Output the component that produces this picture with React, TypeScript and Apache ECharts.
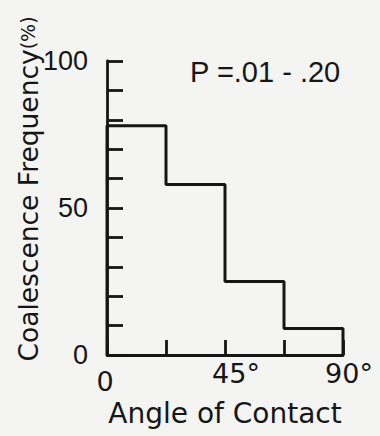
import React, { useEffect, useRef } from "react";
import * as echarts from "echarts";

const binEdges = [0, 22.5, 45, 67.5, 90];
const frequencies = [78, 58, 25, 9];
const yLabelValues = [0, 50, 100];
const xLabelTexts: Record<string, string> = { "0": "0", "45": "45°", "90": "90°" };
const xAxisTitle = "Angle of Contact";
const yAxisTitle = "Coalescence Frequency";
const yAxisUnit = "(%)";
const annotation = "P =.01 - .20";

const INK = "#161616";
const BG = "#f4f4f2";

export default function App() {
  const ref = useRef<HTMLDivElement>(null);
  useEffect(() => {
    if (!ref.current) return;
    const chart = echarts.init(ref.current, null, { renderer: "svg" });
    const pts: number[][] = [[binEdges[0], 0]];
    frequencies.forEach((f, i) => {
      pts.push([binEdges[i], f]);
      pts.push([binEdges[i + 1], f]);
    });
    pts.push([binEdges[binEdges.length - 1], 0]);

    chart.setOption({
      animation: false,
      backgroundColor: BG,
      grid: { left: 107, right: 37, top: 61, bottom: 81 },
      xAxis: {
        type: "value",
        min: 0,
        max: 90,
        interval: 22.5,
        splitLine: { show: false },
        axisLine: { show: true, lineStyle: { color: INK, width: 2.8 } },
        axisTick: { show: true, inside: true, length: 15, lineStyle: { color: INK, width: 2.8 } },
        axisLabel: {
          margin: 5,
          color: INK,
          fontFamily: "DejaVu Sans",
          fontSize: 27,
          formatter: (v: number) => {
            const t = xLabelTexts[String(v)];
            if (!t) return "";
            if (v === 0) return `{z|${t}}`;
            if (v === 45) return `{m|${t}}`;
            return `{e|${t}}`;
          },
          rich: {
            z: { fontFamily: "DejaVu Sans", fontSize: 27, color: INK, padding: [8, 4, 0, 0] },
            m: { fontFamily: "DejaVu Sans", fontSize: 27, color: INK, padding: [0, 0, 0, 22] },
            e: { fontFamily: "DejaVu Sans", fontSize: 27, color: INK, padding: [0, 0, 0, 12] },
          },
        },
        name: xAxisTitle,
        nameLocation: "middle",
        nameGap: 44,
        nameTextStyle: { color: INK, fontFamily: "DejaVu Sans", fontSize: 28, verticalAlign: "top" },
      },
      yAxis: {
        type: "value",
        min: 0,
        max: 100,
        interval: 10,
        splitLine: { show: false },
        axisLine: { show: true, lineStyle: { color: INK, width: 2.8 } },
        axisTick: { show: true, inside: true, length: 16, lineStyle: { color: INK, width: 2.8 } },
        axisLabel: {
          margin: 19,
          color: INK,
          fontFamily: "Liberation Sans",
          fontSize: 27,
          formatter: (v: number) => (yLabelValues.includes(v) ? String(v) : ""),
        },
      },
      graphic: [
        {
          type: "text",
          x: 28,
          y: 189,
          rotation: Math.PI / 2,
          style: {
            text: `{a|${yAxisTitle}}{b|${yAxisUnit}}`,
            align: "center",
            verticalAlign: "middle",
            fill: INK,
            rich: {
              a: { fontFamily: "DejaVu Sans", fontSize: 26.5, fill: INK },
              b: { fontFamily: "DejaVu Sans", fontSize: 19, fill: INK },
            },
          },
        },
        {
          type: "text",
          x: 190,
          y: 72,
          style: {
            text: annotation,
            align: "left",
            verticalAlign: "middle",
            fill: INK,
            fontFamily: "Liberation Sans",
            fontSize: 29,
          },
        },
      ],
      series: [
        {
          type: "line",
          data: pts,
          showSymbol: false,
          clip: false,
          lineStyle: { color: INK, width: 3 },
        },
      ],
    });
    return () => chart.dispose();
  }, []);
  return (
    <div
      ref={ref}
      style={{ position: "absolute", left: 0, top: 0, width: 380, height: 436, background: BG }}
    />
  );
}
